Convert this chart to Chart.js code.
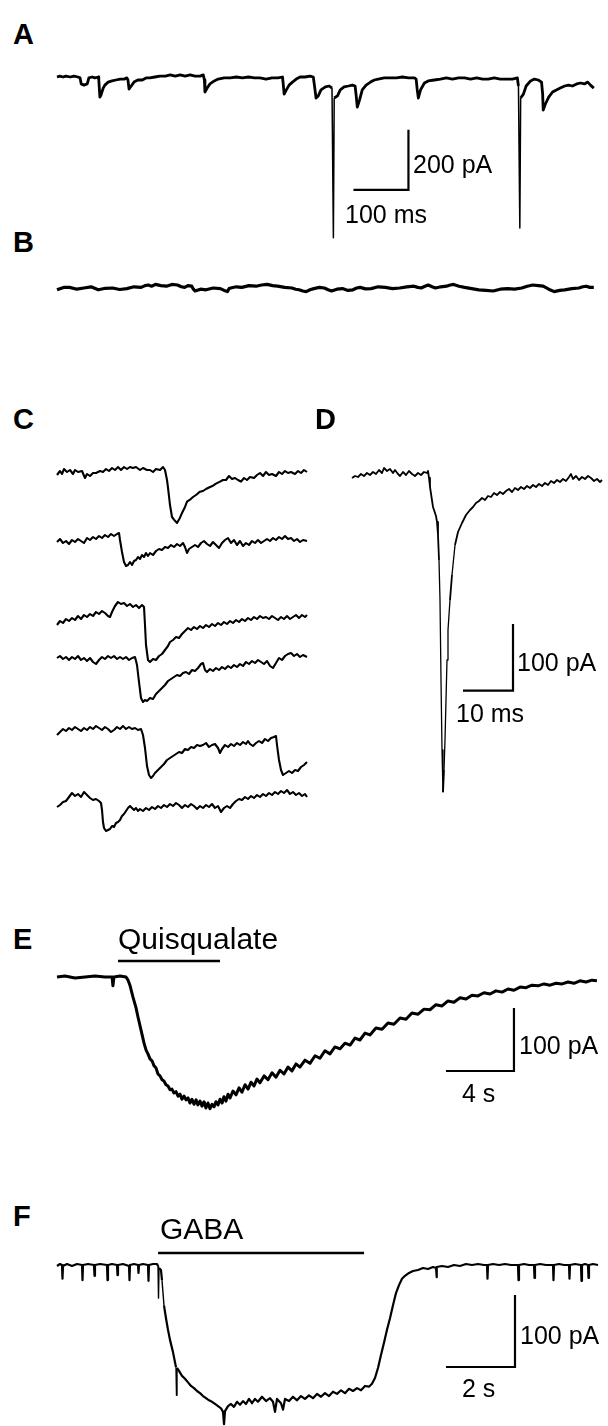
<!DOCTYPE html>
<html>
<head>
<meta charset="utf-8">
<script src="https://cdn.jsdelivr.net/npm/chart.js@4.4.1/dist/chart.umd.min.js"></script>
<style>
  body { margin: 0; background: #fff; }
  #page { position: relative; width: 608px; height: 1426px; overflow: hidden; background: #fff; }
  canvas { position: absolute; }
  .txt { position: absolute; font-family: "Liberation Sans", Arial, sans-serif; line-height: 1; color: #000; white-space: nowrap; }
  .lbl { font-weight: bold; font-size: 29px; }
  .sc { font-size: 25px; }
  .drug { font-size: 30px; }
</style>
</head>
<body>
<div id="page">
  <canvas id="cA"></canvas>
  <canvas id="cB"></canvas>
  <canvas id="cC1"></canvas>
  <canvas id="cC2"></canvas>
  <canvas id="cC3"></canvas>
  <canvas id="cC4"></canvas>
  <canvas id="cC5"></canvas>
  <canvas id="cC6"></canvas>
  <canvas id="cD"></canvas>
  <canvas id="cE"></canvas>
  <canvas id="cF"></canvas>

  <div class="txt lbl" style="left:13px;top:20px">A</div>
  <div class="txt lbl" style="left:13px;top:228px">B</div>
  <div class="txt lbl" style="left:13px;top:405px">C</div>
  <div class="txt lbl" style="left:315px;top:405px">D</div>
  <div class="txt lbl" style="left:13px;top:925px">E</div>
  <div class="txt lbl" style="left:13px;top:1202px">F</div>

  <div class="txt sc" style="left:413px;top:152px">200 pA</div>
  <div class="txt sc" style="left:345px;top:202px">100 ms</div>
  <div class="txt sc" style="left:517px;top:650px">100 pA</div>
  <div class="txt sc" style="left:456px;top:701px">10 ms</div>
  <div class="txt drug" style="left:118px;top:924px">Quisqualate</div>
  <div class="txt sc" style="left:519px;top:1033px">100 pA</div>
  <div class="txt sc" style="left:462px;top:1081px">4 s</div>
  <div class="txt drug" style="left:160px;top:1214px">GABA</div>
  <div class="txt sc" style="left:520px;top:1323px">100 pA</div>
  <div class="txt sc" style="left:462px;top:1376px">2 s</div>
</div>
<script>
// traces as [time, current] pairs; A,B in ms/pA, C,D in ms/pA, E,F in s/pA

const traceA = [
  [0,0],[5,3],[11,0],[16,3],[24,0],[31,3],[38,0],[42,-3],[44,-23],[49,-27],[55,-23],[58,-3],[64,0],[69,-3],[75,0],
  [76,-10],[78,-67],[80,-60],[84,-37],[87,-27],[93,-17],[100,-13],[107,-10],[115,-7],[122,-7],[127,-3],[129,-10],
  [131,-40],[135,-30],[140,-17],[147,-10],[155,-10],[162,-3],[169,-3],[178,0],[187,3],[197,3],[206,7],[215,3],
  [224,7],[233,3],[242,7],[251,3],[260,3],[266,7],[268,-10],[269,-50],[273,-37],[278,-23],[286,-13],[293,-7],
  [304,-3],[315,-3],[326,0],[337,-3],[348,0],[359,-3],[369,-3],[380,-7],[391,-3],[402,-3],[410,0],[411,-17],
  [413,-57],[417,-43],[422,-27],[428,-17],[435,-7],[442,0],[451,0],[460,3],[466,0],[468,-27],[471,-70],[475,-63],
  [480,-43],[488,-33],[495,-30],[500,-37],[502.5,-536],[504,-70],[510,-63],[515,-43],[522,-33],[530,-30],[537,-27],
  [542,-30],[544,-63],[546,-100],[550,-77],[555,-43],[562,-27],[570,-17],[577,-10],[584,-7],[595,-3],[606,-3],
  [617,-3],[628,0],[639,-3],[650,-3],[653,-7],[655,-43],[657,-70],[661,-43],[668,-20],[675,-13],[686,-10],[697,-7],
  [708,-3],[719,-7],[730,-3],[741,-3],[752,-7],[763,-3],[774,-7],[784,-7],[795,-3],[806,-7],[817,-7],[828,-7],
  [837,-3],[839,-30],[841.5,-503],[843,-70],[848,-57],[853,-30],[861,-13],[868,-7],[875,-10],[881,-17],[883,-57],
  [884,-110],[888,-90],[894,-67],[901,-50],[908,-43],[915,-37],[923,-30],[930,-27],[937,-30],[945,-23],[952,-20],
  [959,-23],[965,-17],[970,-27],[976,-37]
];

const traceB = [
  [0,-6],[12,2],[23,2],[36,-4],[49,0],[62,4],[75,-6],[88,-1],[101,0],[114,-5],[127,-2],[140,4],[153,2],[160,8],
  [166,10],[172,6],[179,12],[189,8],[199,6],[209,12],[219,10],[226,4],[232,2],[238,8],[245,6],[248,-4],[251,-10],
  [261,-4],[271,-6],[284,0],[297,-2],[304,-8],[310,-12],[313,-2],[316,0],[326,4],[336,2],[349,8],[362,6],[372,10],
  [382,12],[392,8],[401,6],[414,2],[427,0],[434,-4],[440,-6],[447,-10],[453,-12],[460,-6],[467,-2],[477,2],[486,0],
  [493,-6],[499,-10],[509,-4],[519,-2],[529,-8],[538,-6],[545,0],[551,2],[561,-3],[571,-2],[584,4],[597,2],[610,-2],
  [623,0],[636,4],[649,6],[656,2],[662,0],[669,6],[675,10],[682,4],[688,0],[698,4],[708,6],[715,10],[721,12],
  [731,6],[741,2],[754,-2],[767,-6],[780,-8],[793,-10],[806,-4],[819,-2],[832,-4],[845,0],[855,6],[865,10],[875,8],
  [884,6],[894,-4],[904,-12],[914,-8],[923,-6],[936,-2],[949,0],[956,4],[962,6],[969,2],[976,2]
];

const traceC1 = [
  [0,-3],[0.6,3],[1.0,-1.5],[1.4,6],[2.0,1.5],[2.6,4.5],[3.2,-1.5],[3.6,4.5],[4.2,1.5],[5.0,3],[5.6,-7.5],[6.0,-1.5],
  [6.6,-4.5],[7.2,0],[7.8,0],[8.6,3],[9.2,1.5],[9.8,6],[10.4,3],[11.0,7.5],[11.6,4.5],[12.2,9],[12.8,4.5],[13.4,9],
  [14.0,6],[14.6,9],[15.2,7.5],[15.8,9],[16.6,4.5],[17.2,7.5],[18.0,4.5],[18.6,4.5],[19.2,1.5],[19.8,6],[20.6,4.5],
  [21.2,9],[21.6,4.5],[22.0,-10.5],[22.2,-22],[22.6,-48],[23.0,-66],[23.4,-70],[24.0,-75],[24.6,-67],[25.0,-60],
  [25.6,-51],[26.0,-43],[26.6,-40],[27.2,-36],[27.8,-33],[28.6,-28],[29.2,-27],[29.8,-24],[30.6,-21],[31.2,-19],
  [31.8,-16],[32.6,-13],[33.2,-10.5],[33.8,-10.5],[34.4,-4.5],[35.0,-9],[35.6,-7.5],[36.2,-10.5],[36.8,-13],
  [37.4,-7.5],[38.0,-10.5],[38.6,-6],[39.4,-7.5],[40.0,-3],[40.6,0],[41.2,-4.5],[41.8,1.5],[42.4,-3],[43.0,-1.5],
  [43.8,-4.5],[44.4,1.5],[45.0,-1.5],[45.6,3],[46.2,0],[46.8,1.5],[47.6,-1.5],[48.2,3],[48.8,0],[49.4,4.5],[50.0,1.5]
];

const traceC2 = [
  [0,-1.5],[0.6,3],[1.2,-3],[1.8,0],[2.4,-4.5],[3.0,1.5],[3.6,-1.5],[4.2,3],[4.8,0],[5.4,-3],[6.0,4.5],[6.6,1.5],
  [7.2,6],[7.8,3],[8.4,7.5],[9.0,4.5],[9.6,9],[10.2,6],[10.8,10.5],[11.4,7.5],[12.0,10.5],[12.4,12],[12.6,1.5],
  [13.0,-16.5],[13.4,-31.5],[13.8,-37.5],[14.2,-36],[14.6,-31.5],[15.0,-36],[15.4,-30],[15.8,-28.5],[16.2,-24],
  [16.6,-27],[17.0,-21],[17.4,-24],[17.8,-18],[18.2,-22.5],[18.6,-18],[19.2,-21],[19.8,-15],[20.4,-12],[21.0,-13.5],
  [21.6,-9],[22.2,-10.5],[22.8,-6],[23.4,-9],[24.0,-4.5],[24.6,-7.5],[25.2,-3],[25.6,-9],[26.0,-18],[26.4,-12],
  [27.0,-9],[27.6,-6],[28.2,-9],[28.8,-3],[29.4,0],[30.0,-4.5],[30.6,-7.5],[31.2,-1.5],[31.8,-6],[32.4,-10.5],
  [33.0,-3],[33.6,1.5],[34.2,4.5],[34.8,-3],[35.4,1.5],[36.0,-6],[36.6,0],[37.2,-7.5],[37.8,-3],[38.4,-6],[39.0,0],
  [39.6,-3],[40.2,1.5],[40.8,-3],[41.4,0],[42.0,3],[42.6,0],[43.2,4.5],[43.8,1.5],[44.4,6],[45.0,3],[45.6,7.5],
  [46.2,3],[46.8,4.5],[47.4,0],[48.0,3],[48.6,-1.5],[49.2,1.5],[50.0,0]
];

const traceC3 = [
  [0,-15],[0.6,-9],[1.2,-12],[1.8,-6],[2.4,-9],[3.0,-4.5],[3.6,-7.5],[4.2,-1.5],[4.8,-6],[5.4,0],[6.0,-3],[6.6,1.5],
  [7.2,-1.5],[7.8,4.5],[8.4,1.5],[9.0,6],[9.6,3],[10.2,-1.5],[10.6,-3],[11.0,4.5],[11.6,13.5],[12.2,19.5],[12.8,16.5],
  [13.4,18],[14.0,13.5],[14.6,16.5],[15.2,12],[15.8,15],[16.4,10.5],[17.0,15],[17.4,12],[17.6,-15],[17.8,-45],
  [18.2,-67.5],[18.6,-70.5],[19.2,-66],[19.8,-67.5],[20.4,-61.5],[21.0,-58.5],[21.6,-52.5],[22.2,-46.5],[22.6,-40.5],
  [23.2,-37.5],[23.8,-33],[24.4,-34.5],[25.0,-28.5],[25.6,-24],[26.2,-19.5],[26.8,-22.5],[27.4,-18],[28.0,-21],
  [28.6,-16.5],[29.2,-19.5],[29.8,-15],[30.4,-18],[31.0,-13.5],[31.6,-16.5],[32.2,-12],[32.8,-15],[33.4,-10.5],
  [34.0,-13.5],[34.6,-9],[35.2,-12],[35.8,-7.5],[36.4,-10.5],[37.0,-6],[37.6,-9],[38.2,-4.5],[38.8,-7.5],[39.4,-3],
  [40.0,-6],[40.6,-1.5],[41.2,-4.5],[41.8,-3],[42.4,-6],[43.0,-1.5],[43.6,-4.5],[44.2,-7.5],[44.8,-3],[45.4,-6],
  [46.0,-1.5],[46.6,-6],[47.2,-3],[47.8,0],[48.4,-4.5],[49.0,0],[49.6,-3],[50.0,0]
];

const traceC4 = [
  [0,1.5],[0.6,4.5],[1.2,0],[1.8,3],[2.4,-1.5],[3.0,3],[3.6,0],[4.2,4.5],[4.8,-1.5],[5.4,1.5],[6.0,-3],[6.6,1.5],
  [7.2,-4.5],[7.8,-7.5],[8.4,-1.5],[9.0,3],[9.6,0],[10.2,4.5],[10.8,1.5],[11.4,4.5],[12.0,0],[12.6,3],[13.2,0],
  [13.8,3],[14.4,-1.5],[15.0,1.5],[15.6,3],[16.0,-9],[16.4,-34.5],[16.8,-58.5],[17.2,-64.5],[17.6,-61.5],[18.0,-63],
  [18.6,-58.5],[19.2,-60],[19.8,-52.5],[20.4,-48],[21.0,-43.5],[21.6,-39],[22.2,-33],[22.8,-30],[23.4,-27],[24.0,-24],
  [24.6,-25.5],[25.2,-21],[25.8,-19.5],[26.4,-22.5],[27.0,-16.5],[27.6,-18],[28.2,-13.5],[28.8,-7.5],[29.2,-6],
  [29.6,-16.5],[30.0,-19.5],[30.6,-15],[31.2,-18],[31.8,-13.5],[32.4,-16.5],[33.0,-12],[33.6,-15],[34.2,-10.5],
  [34.8,-13.5],[35.4,-9],[36.0,-12],[36.6,-7.5],[37.2,-10.5],[37.8,-4.5],[38.4,-7.5],[39.0,-3],[39.6,-6],[40.2,-1.5],
  [40.8,-4.5],[41.4,-7.5],[42.0,-3],[42.6,-10.5],[43.2,-13.5],[43.8,-6],[44.4,1.5],[45.0,-1.5],[45.6,4.5],[46.2,7.5],
  [46.8,9],[47.4,4.5],[48.0,7.5],[48.6,3],[49.2,6],[50.0,3]
];

const traceC5 = [
  [0,-6],[0.6,-1.5],[1.2,3],[1.8,0],[2.4,4.5],[3.0,1.5],[3.6,6],[4.2,3],[4.8,0],[5.4,4.5],[6.0,1.5],[6.6,6],[7.2,3],
  [7.8,7.5],[8.4,4.5],[9.0,1.5],[9.6,6],[10.2,3],[10.8,-1.5],[11.4,1.5],[12.0,6],[12.6,3],[13.2,7.5],[13.8,3],[14.4,6],
  [15.0,3],[15.6,4.5],[16.2,1.5],[16.8,3],[17.2,-6],[17.6,-25.5],[18.0,-52.5],[18.4,-66],[18.8,-70.5],[19.2,-67.5],
  [19.6,-63],[20.2,-58.5],[20.8,-54],[21.4,-49.5],[22.0,-43.5],[22.6,-40.5],[23.2,-37.5],[23.8,-34.5],[24.4,-31.5],
  [25.0,-33],[25.6,-27],[26.2,-28.5],[26.8,-24],[27.4,-25.5],[28.0,-21],[28.6,-22.5],[29.2,-21],[29.8,-18],[30.4,-24],
  [31.0,-21],[31.6,-19.5],[32.2,-25.5],[32.6,-33],[33.0,-27],[33.6,-21],[34.2,-24],[34.8,-19.5],[35.4,-22.5],
  [36.0,-18],[36.6,-21],[37.2,-16.5],[37.8,-19.5],[38.2,-15],[38.6,-19.5],[39.2,-22.5],[39.8,-18],[40.4,-15],
  [41.0,-18],[41.6,-12],[42.2,-15],[42.8,-10.5],[43.4,-9],[43.8,-7.5],[44.0,-21],[44.4,-43.5],[44.8,-58.5],
  [45.2,-66],[45.8,-63],[46.4,-60],[47.0,-63],[47.6,-58.5],[48.2,-60],[48.8,-54],[49.4,-51],[50.0,-46.5]
];

const traceC6 = [
  [0,-10.5],[0.6,-7.5],[1.2,-3],[1.8,-1.5],[2.4,4.5],[3.0,10.5],[3.6,6],[4.2,9],[4.8,4.5],[5.4,12],[6.0,7.5],[6.6,3],
  [7.2,0],[7.8,1.5],[8.4,-1.5],[8.8,-4.5],[9.0,-15],[9.2,-33],[9.4,-42],[9.8,-46.5],[10.2,-45],[10.6,-43.5],[11.0,-39],
  [11.4,-40.5],[11.8,-34.5],[12.2,-33],[12.6,-30],[13.0,-24],[13.4,-21],[13.8,-16.5],[14.2,-12],[14.6,-9],[15.0,-12],
  [15.4,-15],[15.8,-12],[16.2,-16.5],[16.6,-13.5],[17.2,-16.5],[17.8,-12],[18.4,-15],[19.0,-10.5],[19.6,-13.5],
  [20.2,-9],[20.8,-12],[21.4,-7.5],[22.0,-10.5],[22.6,-6],[23.2,-9],[23.8,-4.5],[24.4,-7.5],[25.0,-12],[25.6,-7.5],
  [26.2,-10.5],[26.8,-6],[27.4,-9],[28.0,-13.5],[28.6,-9],[29.2,-12],[29.8,-7.5],[30.4,-10.5],[31.0,-6],[31.6,-12],
  [32.2,-9],[32.8,-18],[33.4,-12],[34.0,-9],[34.6,-12],[35.2,-6],[35.8,-1.5],[36.4,1.5],[37.0,0],[37.6,4.5],[38.2,1.5],
  [38.8,6],[39.4,3],[40.0,7.5],[40.6,4.5],[41.2,9],[41.8,6],[42.4,10.5],[43.0,7.5],[43.6,12],[44.2,9],[44.8,13.5],
  [45.4,10.5],[46.0,15],[46.6,9],[47.2,12],[47.8,7.5],[48.4,10.5],[49.0,6],[49.6,9],[50.0,4.5]
];

const traceD = [
  [0,-4.5],[0.6,-1.5],[1.2,-3],[1.8,1.5],[2.4,-1.5],[3.0,3],[3.6,0],[4.2,4.5],[4.8,1.5],[5.4,7.5],[6.0,3],[6.4,10.5],
  [7.0,6],[7.6,9],[8.2,3],[8.6,7.5],[9.2,1.5],[9.6,-1.5],[10.2,4.5],[10.8,0],[11.4,6],[12.0,1.5],[12.6,-1.5],[13.2,3],
  [13.8,0],[14.4,4.5],[15.0,3],[15.2,6],[15.4,-4.5],[15.6,-18],[16.2,-48],[16.8,-61.5],[17.0,-70.5],[17.2,-90],
  [17.4,-127.5],[17.6,-187.5],[17.8,-307.5],[18.0,-412.5],[18.2,-475.5],[18.4,-442.5],[18.6,-397.5],[18.8,-337.5],
  [19.0,-277.5],[19.2,-232.5],[19.6,-187.5],[20.0,-150],[20.6,-105],[21.2,-85.5],[22.0,-72],[22.8,-60],[23.6,-52.5],
  [24.2,-48],[24.8,-42],[25.4,-39],[26.0,-34.5],[26.6,-37.5],[27.2,-31.5],[27.8,-33],[28.4,-27],[29.0,-30],[29.6,-25.5],
  [30.2,-28.5],[30.8,-24],[31.4,-21],[32.0,-25.5],[32.6,-19.5],[33.2,-22.5],[33.8,-18],[34.4,-21],[35.0,-16.5],
  [35.6,-19.5],[36.2,-15],[36.8,-18],[37.4,-13.5],[38.0,-16.5],[38.6,-12],[39.2,-15],[39.8,-9],[40.4,-12],[41.0,-7.5],
  [41.6,-10.5],[42.2,-6],[42.8,-9],[43.4,-3],[43.8,1.5],[44.2,-6],[44.8,-1.5],[45.4,-7.5],[46.0,-3],[46.6,-6],
  [47.2,-1.5],[47.8,-4.5],[48.4,-9],[49.0,-6],[49.6,-10.5],[50.0,-7.5]
];

const traceE = [
  [0,0],[0.47,1.6],[1.06,-1.6],[1.65,0],[2.24,1.6],[2.82,0],[3.24,0],[3.29,-14],[3.35,0],[3.71,1.6],[4.06,0],[4.18,-5],
  [4.29,-13],[4.47,-32],[4.65,-49],[4.76,-63],[4.94,-84],[5.12,-105],[5.24,-116],[5.35,-122],[5.47,-130],[5.59,-133],
  [5.71,-141],[5.82,-144],[5.94,-154],[6.06,-157],[6.18,-163],[6.29,-165],[6.41,-171],[6.53,-173],[6.65,-179],
  [6.76,-178],[6.88,-184],[7.0,-182],[7.12,-189],[7.24,-186],[7.35,-194],[7.47,-189],[7.59,-195],[7.71,-192],
  [7.82,-200],[7.94,-194],[8.06,-202],[8.18,-195],[8.29,-203],[8.41,-197],[8.53,-205],[8.65,-198],[8.76,-208],
  [8.88,-200],[9.0,-209],[9.12,-202],[9.24,-206],[9.35,-198],[9.47,-203],[9.59,-194],[9.71,-200],[9.82,-190],
  [9.94,-197],[10.06,-186],[10.18,-192],[10.35,-181],[10.53,-187],[10.71,-176],[10.88,-183],[11.06,-171],[11.24,-178],
  [11.41,-167],[11.59,-173],[11.76,-162],[11.94,-168],[12.18,-157],[12.41,-163],[12.65,-152],[12.88,-159],[13.12,-148],
  [13.35,-154],[13.59,-143],[13.82,-149],[14.06,-138],[14.29,-143],[14.59,-132],[14.88,-137],[15.18,-125],[15.47,-129],
  [15.76,-117],[16.06,-122],[16.35,-111],[16.65,-114],[16.94,-105],[17.24,-108],[17.53,-97],[17.82,-100],[18.12,-89],
  [18.41,-92],[18.76,-81],[19.12,-83],[19.47,-73],[19.82,-75],[20.18,-65],[20.53,-67],[20.88,-57],[21.24,-59],
  [21.59,-51],[21.94,-52],[22.29,-44],[22.65,-46],[23.0,-38],[23.35,-40],[23.71,-33],[24.06,-35],[24.41,-29],
  [24.76,-30],[25.12,-25],[25.47,-27],[25.82,-22],[26.18,-24],[26.53,-19],[26.88,-21],[27.24,-16],[27.59,-17],
  [27.94,-13],[28.29,-14],[28.65,-11],[29.0,-13],[29.35,-10],[29.71,-11],[30.06,-8],[30.41,-10],[30.76,-6],
  [31.12,-8],[31.47,-5],[31.76,-6]
];

const traceF = [
  [0,-1.4],[0.087,1.4],[0.145,0],[0.159,-19],[0.174,-1.4],[0.29,1.4],[0.435,-1.4],[0.58,1.4],[0.725,0],[0.739,-21],
  [0.754,0],[0.899,1.4],[1.072,0],[1.087,-15],[1.101,0],[1.246,1.4],[1.449,0],[1.464,-21],[1.478,0],[1.594,1.4],
  [1.739,0],[1.754,-14],[1.768,0],[1.913,1.4],[2.087,-1.4],[2.101,-21],[2.116,0],[2.232,1.4],[2.348,0],[2.362,-11],
  [2.377,0],[2.493,1.4],[2.638,0],[2.652,-22],[2.667,0],[2.783,1.4],[2.899,1.4],[2.928,-1.4],[2.942,-46],[2.957,-4.2],
  [3.014,-7],[3.043,-21],[3.101,-56],[3.159,-74],[3.217,-90],[3.275,-104],[3.362,-121],[3.42,-135],[3.449,-142],
  [3.464,-181],[3.478,-143],[3.536,-147],[3.623,-154],[3.71,-158],[3.797,-163],[3.884,-168],[3.971,-171],[4.058,-175],
  [4.145,-178],[4.232,-182],[4.319,-185],[4.406,-188],[4.493,-190],[4.58,-193],[4.667,-196],[4.754,-199],[4.812,-204],
  [4.841,-221],[4.87,-203],[4.957,-196],[5.043,-193],[5.13,-197],[5.217,-190],[5.304,-194],[5.391,-189],[5.478,-193],
  [5.565,-186],[5.652,-192],[5.739,-186],[5.826,-190],[5.942,-183],[6.058,-189],[6.174,-185],[6.261,-190],[6.319,-204],
  [6.377,-186],[6.493,-192],[6.551,-201],[6.609,-186],[6.725,-189],[6.841,-183],[6.957,-188],[7.072,-182],[7.188,-186],
  [7.304,-181],[7.42,-185],[7.536,-179],[7.652,-183],[7.768,-178],[7.884,-182],[8.0,-176],[8.116,-179],[8.232,-174],
  [8.348,-178],[8.464,-172],[8.58,-175],[8.696,-171],[8.812,-174],[8.928,-168],[9.043,-169],[9.13,-165],[9.217,-157],
  [9.304,-143],[9.391,-125],[9.478,-108],[9.565,-90],[9.652,-74],[9.739,-56],[9.826,-39],[9.913,-28],[10.0,-19],
  [10.087,-15],[10.203,-11],[10.319,-8.3],[10.464,-7],[10.609,-4.2],[10.754,-5.6],[10.899,-2.8],[10.986,-4.2],
  [11.0,-17],[11.014,-2.8],[11.159,-1.4],[11.333,-2.8],[11.507,0],[11.681,-1.4],[11.855,1.4],[12.029,0],[12.203,1.4],
  [12.377,0],[12.464,0],[12.478,-19],[12.493,0],[12.638,1.4],[12.812,0],[12.986,1.4],[13.159,0],[13.362,0],
  [13.377,-21],[13.391,0],[13.536,1.4],[13.681,0],[13.826,0],[13.841,-18],[13.855,0],[14.0,1.4],[14.174,0],[14.377,0],
  [14.391,-21],[14.406,0],[14.551,1.4],[14.696,0],[14.841,0],[14.855,-19],[14.87,0],[15.014,1.4],[15.188,0],
  [15.203,-22],[15.217,0],[15.304,1.4],[15.391,0],[15.406,-18],[15.42,0],[15.536,1.4],[15.681,0]
];

// scale bars: corner time, corner current, bar lengths
const scaleA = { t: 639, i: -376, dt: 100, di: 200 };
const scaleD = { t: 32.2, i: -323.5, dt: 10, di: 100 };
const scaleE = { t: 26.88, i: -149.2, dt: 4, di: 100 };
const scaleF = { t: 13.275, i: -141.7, dt: 2, di: 100 };

// drug application windows (s)
const quisqualateOn = [3.59, 9.59];
const gabaOn = [2.93, 8.9];

const line = (pairs, w, extra) => Object.assign({
  data: pairs.map(([x, y]) => ({ x, y })),
  borderColor: "#000",
  borderWidth: w,
  pointRadius: 0,
  fill: false,
  tension: 0,
  borderJoinStyle: "round",
}, extra || {});

const scaleBar = (s) => line([[s.t - s.dt, s.i], [s.t, s.i], [s.t, s.i + s.di]], 2.2, { borderJoinStyle: "miter" });
const drugBar = (on, level) => line([[on[0], level], [on[1], level]], 2.6);

// thin line on the fast vertical strokes
const thinFast = (limit, wide, thin) => ({
  borderWidth: (c) => (Math.abs(c.p1.parsed.y - c.p0.parsed.y) > limit ? thin : wide),
});

// box in page px, origin = page px of (0,0), sx/sy = px per unit
const makePanel = (id, box, origin, sx, sy, datasets) => {
  const cv = document.getElementById(id);
  cv.width = box.w;
  cv.height = box.h;
  cv.style.left = box.x + "px";
  cv.style.top = box.y + "px";
  new Chart(cv, {
    type: "line",
    data: { datasets },
    options: {
      responsive: false,
      animation: false,
      events: [],
      layout: { padding: 0 },
      plugins: { legend: { display: false }, tooltip: { enabled: false } },
      scales: {
        x: { type: "linear", display: false, min: (box.x - origin.x) / sx, max: (box.x + box.w - origin.x) / sx },
        y: { type: "linear", display: false, min: (origin.y - box.y - box.h) / sy, max: (origin.y - box.y) / sy },
      },
    },
  });
};

makePanel("cA", { x: 40, y: 55, w: 568, h: 200 }, { x: 57, y: 77 }, 0.55, 0.3, [
  line(traceA, 2.8, { segment: thinFast(150, 2.8, 1.5) }),
  scaleBar(scaleA),
]);

makePanel("cB", { x: 40, y: 268, w: 568, h: 42 }, { x: 57, y: 288 }, 0.55, 0.3, [
  line(traceB, 3.2),
]);

const cOrigins = [473, 541, 615, 659, 731, 800];
const cTraces = [traceC1, traceC2, traceC3, traceC4, traceC5, traceC6];
cTraces.forEach((tr, k) => {
  const oy = cOrigins[k];
  makePanel("cC" + (k + 1), { x: 45, y: oy - 70, w: 275, h: 140 }, { x: 57, y: oy }, 5, 2 / 3, [
    line(tr, 2.1),
  ]);
});

makePanel("cD", { x: 340, y: 440, w: 268, h: 370 }, { x: 352, y: 475 }, 5, 2 / 3, [
  line(traceD, 1.8, { segment: thinFast(40, 1.8, 1.3) }),
  scaleBar(scaleD),
]);

makePanel("cE", { x: 40, y: 945, w: 568, h: 180 }, { x: 57, y: 977 }, 17, 0.63, [
  line(traceE, 3),
  drugBar(quisqualateOn, 25.4),
  scaleBar(scaleE),
]);

makePanel("cF", { x: 40, y: 1240, w: 568, h: 186 }, { x: 57, y: 1265 }, 34.5, 0.72, [
  line(traceF, 2.2, { segment: thinFast(30, 2.2, 1.4) }),
  drugBar(gabaOn, 16.7),
  scaleBar(scaleF),
]);
</script>
</body>
</html>
